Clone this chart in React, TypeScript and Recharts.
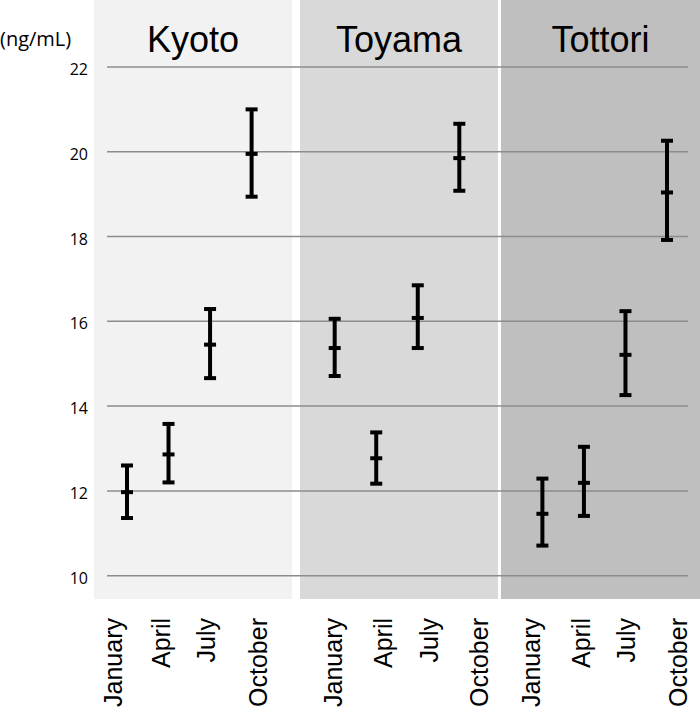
import React from 'react';
import {
  ComposedChart,
  Scatter,
  ErrorBar,
  XAxis,
  YAxis,
  ReferenceArea,
  ReferenceLine,
} from 'recharts';

const regions = ['Kyoto', 'Toyama', 'Tottori'];
const months = ['January', 'April', 'July', 'October'];
const barSlots = [0, 1, 2, 3, 5, 6, 7, 8, 10, 11, 12, 13];
const means = [11.97, 12.86, 15.45, 19.95, 15.37, 12.77, 16.08, 19.85, 11.46, 12.19, 15.21, 19.04];
const lows = [11.36, 12.2, 14.66, 18.94, 14.71, 12.17, 15.37, 19.08, 10.71, 11.41, 14.26, 17.92];
const highs = [12.6, 13.58, 16.29, 21.0, 16.06, 13.38, 16.85, 20.66, 12.29, 13.04, 16.24, 20.26];
const labelSlots = [-0.12, 1.035, 2.118, 3.37, 5.176, 6.379, 7.487, 8.69, 9.942, 11.146, 12.229, 13.481];
const yTicks = [10, 12, 14, 16, 18, 20, 22];
const panelSpans: [number, number][] = [
  [-0.794, 3.972],
  [4.165, 8.931],
  [9.003, 13.794],
];
const panelFills = ['#f2f2f2', '#d9d9d9', '#bfbfbf'];

const X_DOMAIN: [number, number] = [-0.794, 13.794];
const Y_DOMAIN: [number, number] = [9.45, 23.58];
const GRID_X: [number, number] = [-0.481, 13.507];

const data = barSlots.map((u, i) => ({
  u,
  mean: means[i],
  err: [means[i] - lows[i], highs[i] - means[i]],
}));

const SANS = 'Liberation Sans, Arial, sans-serif';

const CenterMark = (props: any) => {
  const { cx, cy } = props;
  if (cx == null || cy == null) return null;
  return <line x1={cx - 6} x2={cx + 6} y1={cy} y2={cy} stroke="#000" strokeWidth={4} />;
};

const nearestLabel = (v: number) => {
  let best = 0;
  let bd = Infinity;
  labelSlots.forEach((s, i) => {
    const d = Math.abs(s - v);
    if (d < bd) {
      bd = d;
      best = i;
    }
  });
  return months[best % 4];
};

const MonthTick = (props: any) => {
  const { x, y, payload } = props;
  const label = nearestLabel(Number(payload.value));
  const ty = y + 19;
  return (
    <text
      x={x}
      y={ty}
      transform={`rotate(-90 ${x} ${ty})`}
      textAnchor="end"
      fontSize={25}
      fontFamily={SANS}
      fill="#000"
    >
      {label}
    </text>
  );
};

const ValueTick = (props: any) => {
  const { x, y, payload } = props;
  return (
    <text x={x - 6} y={y + 8} textAnchor="end" fontSize={16} fontFamily="Open Sans, sans-serif" fill="#000">
      {payload.value}
    </text>
  );
};

const UnitLabel = () => (
  <text x={0} y={46} fontSize={20} fontFamily="Open Sans, sans-serif" fill="#000">
    (ng/mL)
  </text>
);

export default function App() {
  return (
    <div style={{ position: 'absolute', left: 0, top: 0, background: '#fff' }}>
      <ComposedChart width={700} height={712} data={data} margin={{ top: 0, right: 0, bottom: 0, left: 0 }}>
        <XAxis
          xAxisId="pos"
          dataKey="u"
          type="number"
          domain={X_DOMAIN}
          allowDataOverflow
          ticks={labelSlots}
          interval={0}
          height={113}
          axisLine={false}
          tickLine={false}
          tickSize={0}
          tickMargin={0}
          tick={<MonthTick />}
        />
        <YAxis
          dataKey="mean"
          type="number"
          domain={Y_DOMAIN}
          allowDataOverflow
          ticks={yTicks}
          interval={0}
          width={94}
          axisLine={false}
          tickLine={false}
          tickSize={0}
          tickMargin={0}
          tick={<ValueTick />}
          label={<UnitLabel />}
        />
        {panelSpans.map(([a, b], i) => (
          <ReferenceArea
            key={regions[i]}
            xAxisId="pos"
            x1={a}
            x2={b}
            y1={Y_DOMAIN[0]}
            y2={Y_DOMAIN[1]}
            fill={panelFills[i]}
            fillOpacity={1}
            stroke="none"
            ifOverflow="visible"
            label={{
              value: regions[i],
              position: 'insideTop',
              offset: 26,
              fontSize: 36,
              fill: '#000',
              fontFamily: SANS,
            }}
          />
        ))}
        {yTicks.map((t) => (
          <ReferenceLine
            key={t}
            xAxisId="pos"
            segment={[
              { x: GRID_X[0], y: t },
              { x: GRID_X[1], y: t },
            ]}
            stroke="#8c8c8c"
            strokeWidth={1.5}
            ifOverflow="visible"
          />
        ))}
        <Scatter xAxisId="pos" dataKey="mean" shape={<CenterMark />} isAnimationActive={false}>
          <ErrorBar dataKey="err" direction="y" width={6} stroke="#000" strokeWidth={4} isAnimationActive={false} />
        </Scatter>
      </ComposedChart>
    </div>
  );
}
